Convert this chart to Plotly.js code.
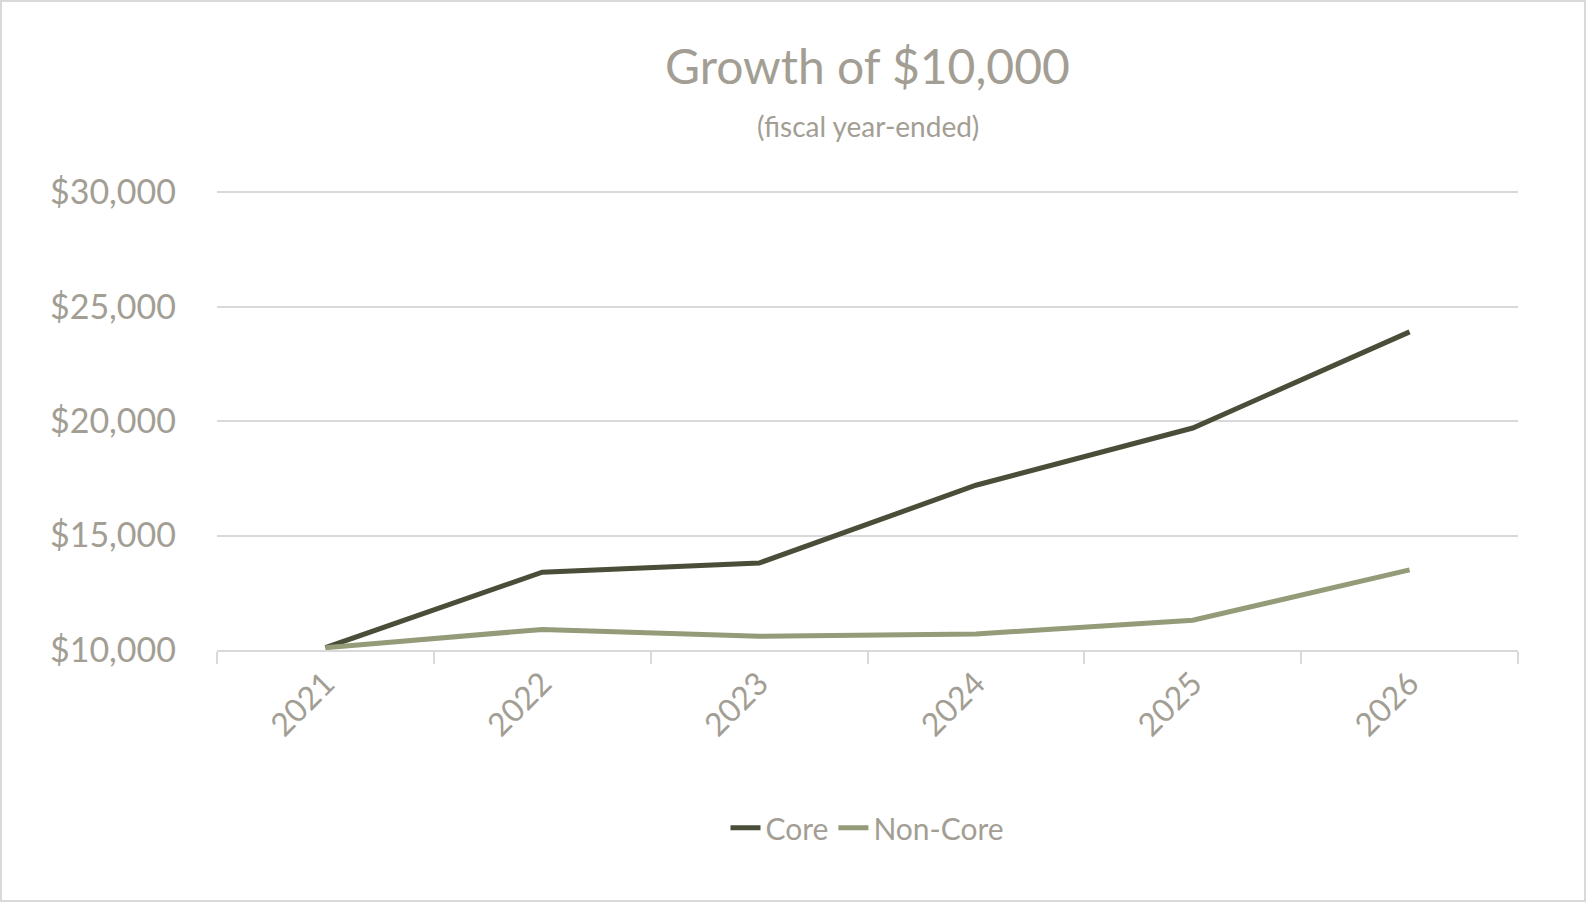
<!DOCTYPE html>
<html>
<head>
<script src="https://cdn.plot.ly/plotly-3.0.1.min.js"></script>
<style>
  body { margin: 0; }
  #chart { width: 1586px; height: 902px; box-sizing: border-box; border: 2px solid #d9d9d9; }
</style>
</head>
<body>
<div id="chart"></div>
<script>
var years = ['2021', '2022', '2023', '2024', '2025', '2026'];
var core = [10100, 13400, 13800, 17200, 19700, 23900];
var nonCore = [10100, 10900, 10600, 10700, 11300, 13500];
var yTicks = [10000, 15000, 20000, 25000, 30000];
var yTickText = ['$10,000', '$15,000', '$20,000', '$25,000', '$30,000'];

var fontFam = 'Lato, "Open Sans", sans-serif';
var gray = '#a39e94';

var traces = [
  { x: years, y: core, name: 'Core', mode: 'lines', type: 'scatter',
    line: { color: '#4a4d38', width: 5 } },
  { x: years, y: nonCore, name: 'Non-Core', mode: 'lines', type: 'scatter',
    line: { color: '#939b78', width: 5 } }
];

var layout = {
  width: 1582, height: 898,
  margin: { l: 215, r: 66, t: 188, b: 250 },
  paper_bgcolor: '#fff', plot_bgcolor: '#fff',
  font: { family: fontFam, color: gray },
  annotations: [
    { text: 'Growth of $10,000', xref: 'paper', yref: 'paper', x: 0.5, y: 1.27,
      xanchor: 'center', yanchor: 'middle', showarrow: false,
      font: { size: 48, color: gray, family: fontFam } },
    { text: '(fiscal year-ended)', xref: 'paper', yref: 'paper', x: 0.5, y: 1.14,
      xanchor: 'center', yanchor: 'middle', showarrow: false,
      font: { size: 28, color: gray, family: fontFam } }
  ],
  xaxis: {
    type: 'category', tickangle: -45, tickson: 'boundaries', range: [-0.5, 5.5],
    ticks: 'outside', ticklen: 12, tickcolor: '#d9d9d9', tickwidth: 2,
    showgrid: false, showline: true, linecolor: '#d9d9d9', linewidth: 2,
    tickfont: { size: 32, color: gray }
  },
  yaxis: {
    range: [10000, 30100], tickvals: yTicks, ticktext: yTickText,
    showgrid: true, gridcolor: '#d9d9d9', gridwidth: 2, zeroline: false,
    tickfont: { size: 34, color: gray }, ticklabelstandoff: 40
  },
  showlegend: true,
  legend: { orientation: 'h', x: 0.5, xanchor: 'center', y: -0.33, yanchor: 'top',
    font: { size: 30, color: gray } }
};

Plotly.newPlot('chart', traces, layout, { displayModeBar: false });
</script>
</body>
</html>
